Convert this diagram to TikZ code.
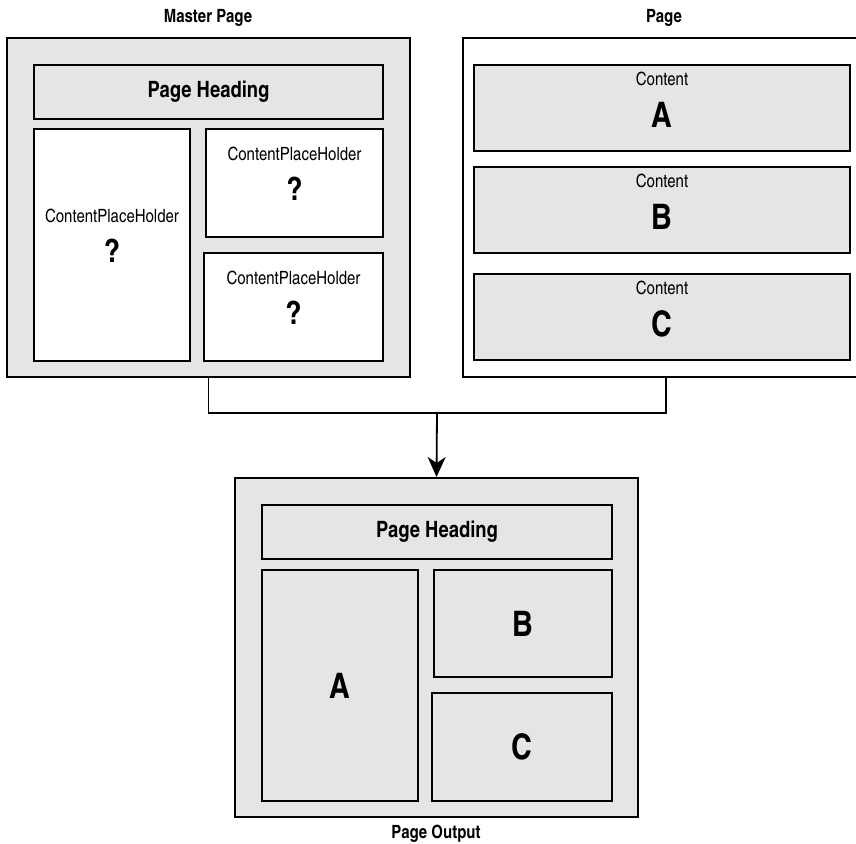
\documentclass[tikz,border=0pt]{standalone}
\usepackage{fontspec}
\setmainfont{texgyreheroscn}[Extension=.otf, UprightFont=*-regular, BoldFont=*-bold]
\usetikzlibrary{arrows.meta, positioning}
\definecolor{panelgray}{RGB}{229,229,229}
\tikzstyle{frame} = [draw, rectangle, line width=0.5mm, inner sep=0pt]
\tikzstyle{slot} = [draw, rectangle, line width=0.45mm, inner sep=0pt]
\tikzstyle{caption} = [font=\fontsize{13}{15}\selectfont\bfseries]
\tikzstyle{heading} = [font=\fontsize{16}{18}\selectfont\bfseries]
\tikzstyle{phtext} = [align=center, font=\fontsize{13}{28.5}\selectfont]
\tikzstyle{cttext} = [align=center, font=\fontsize{13}{30}\selectfont]
\tikzstyle{letter} = [font=\fontsize{25}{28}\selectfont\bfseries]
\tikzset{px size/.style 2 args={minimum width=#1*0.25mm, minimum height=#2*0.25mm}}
\newcommand{\qmark}{{\fontsize{23}{28}\selectfont\bfseries ?}}
\newcommand{\bigletter}[1]{{\fontsize{25}{28}\selectfont\bfseries #1}}

\begin{document}
\begin{tikzpicture}[x=0.25mm, y=-0.25mm, >=Stealth]
    \path[use as bounding box] (0,0) rectangle (856,843);
    \clip (0,0) rectangle (856,843);
    % master page
    \node [frame, fill=panelgray, px size={403}{339}] (master) at (208.5,207.5) {};
    \node [slot, fill=panelgray, px size={349}{54}, heading] (mhead) at (208.5,92) {Page Heading};
    \node [slot, fill=white, px size={156}{232}] (ph1) at (112,245) {};
    \node [slot, fill=white, px size={177}{108}] (ph2) at (294.5,183) {};
    \node [slot, fill=white, px size={179}{108}] (ph3) at (293.5,307) {};
    \node [phtext] (ph1text) at ([yshift=2.25mm]ph1.center) {ContentPlaceHolder\\\qmark};
    \node [phtext] (ph2text) at ([yshift=2.25mm]ph2.center) {ContentPlaceHolder\\\qmark};
    \node [phtext] (ph3text) at ([yshift=2.25mm]ph3.center) {ContentPlaceHolder\\\qmark};
    \node [caption] (mastertitle) at (208,18) {Master Page};
    % content page
    \node [frame, fill=white, px size={406}{339}] (page) at (666,207.5) {};
    \node [slot, fill=panelgray, px size={376}{86}] (ca) at (662,108) {};
    \node [slot, fill=panelgray, px size={376}{86}] (cb) at (662,210) {};
    \node [slot, fill=panelgray, px size={376}{86}] (cc) at (662,317) {};
    \node [cttext] (catext) at ([yshift=2mm]ca.center) {Content\\\bigletter{A}};
    \node [cttext] (cbtext) at ([yshift=2mm]cb.center) {Content\\\bigletter{B}};
    \node [cttext] (cctext) at ([yshift=2mm]cc.center) {Content\\\bigletter{C}};
    \node [caption] (pagetitle) at (664,18) {Page};
    % merged output
    \node [frame, fill=panelgray, px size={403}{339}] (output) at (436.5,647.5) {};
    \node [slot, fill=panelgray, px size={350}{54}, heading] (ohead) at (437,532) {Page Heading};
    \node [slot, fill=panelgray, px size={156}{231}, letter] (oa) at (340,685.5) {A};
    \node [slot, fill=panelgray, px size={178}{107}, letter] (ob) at (523,623.5) {B};
    \node [slot, fill=panelgray, px size={180}{108}, letter] (oc) at (522,747) {C};
    \node [caption] (outputtitle) at (436,834) {Page Output};
    % connectors
    \coordinate (join) at (437,413);
    \draw [line width=0.45mm] (master.south) |- (join) -| (page.south);
    \draw [line width=0.45mm, -{Stealth[length=5mm, width=4.5mm, inset=1.5mm]}] (join) -- (output.north);
\end{tikzpicture}
\end{document}
